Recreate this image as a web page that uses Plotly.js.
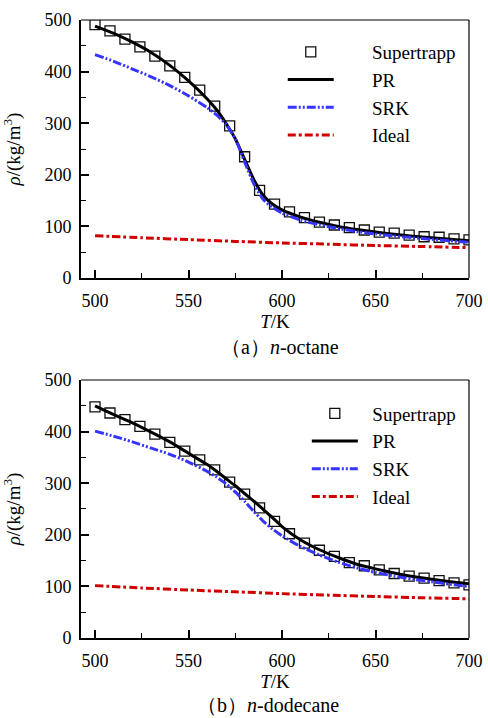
<!DOCTYPE html>
<html><head><meta charset="utf-8">
<script src="https://cdn.plot.ly/plotly-3.0.1.min.js"></script>
<style>html,body{margin:0;padding:0;background:#fff}#chart{width:488px;height:718px}</style>
</head><body><div id="chart"></div>
<script>
// Temperatures (K)
const T_sup = [500,508,516,524,532,540,548,556,564,572,580,588,596,604,612,620,628,636,644,652,660,668,676,684,692,700];
const T_line = [500,510,520,530,540,550,560,565,570,575,580,585,590,595,600,610,620,630,640,650,660,670,680,690,700];
const T_ideal = [500,525,550,575,600,625,650,675,700];

// (a) n-octane
const oct_sup   = [491,479,463,448,430,411,389,364,333,295,235,170,143,128,117,108.5,102.7,97.5,93,89,87,83,80,79,76,74];
const oct_PR    = [488,474,457,437,412,382,347,326,300,270,230,190,160,143,132,118,108,100,94,89,85,81,78,75,72];
const oct_SRK   = [433,420,405,390,373,353,330,316,298,270,225,182,152,137,126,112,103,96,90,85.5,81.5,78,75,72,69];
const oct_ideal = [82,78,74.5,71,68,65.5,63,61,58.8];

// (b) n-dodecane
const dod_sup   = [448,436,423,410,395,379,362,345,326,302,279,252,226,202,184,170,158,146,140,132,125,120,116,111,107,103];
const dod_PR    = [450,433,417,399,380,358,336,323,309,295,280,265,249,233,216,190,171,156,143,134,126,119,114,109,105];
const dod_SRK   = [401,391,380,368,356,341,323,312,299,283,265,245,226,211,198,177,161,147,136,127,120,114,109,104,100];
const dod_ideal = [101.5,97,93,89.5,86,83,80.5,78,76];

const names = ['Supertrapp','PR','SRK','Ideal'];
const FONT = '"Liberation Serif", "Times New Roman", serif';
const BLUE = '#3535ff', RED = '#d00000';

function traces(sup, pr, srk, ideal, xa, ya, leg, pad) {
  return [
    {x:T_sup, y:sup, xaxis:xa, yaxis:ya, legend:leg, name:pad+names[0], legendgroup:leg+'a', mode:'markers', type:'scatter',
     marker:{symbol:'square-open', size:10, color:'#111', line:{width:1.3, color:'#111'}}},
    {x:T_line, y:pr, xaxis:xa, yaxis:ya, legend:leg, name:pad+names[1], legendgroup:leg+'b', mode:'lines', type:'scatter', line:{color:'#000', width:3, shape:'spline', smoothing:0.6}},
    {x:T_line, y:srk, xaxis:xa, yaxis:ya, legend:leg, name:pad+names[2], legendgroup:leg+'c', mode:'lines', type:'scatter', line:{color:BLUE, width:3, shape:'spline', smoothing:0.6, dash:'9px,2px,2px,2px,2px,2px'}},
    {x:T_ideal, y:ideal, xaxis:xa, yaxis:ya, legend:leg, name:pad+names[3], legendgroup:leg+'d', mode:'lines', type:'scatter', line:{color:RED, width:3, shape:'spline', smoothing:0.6, dash:'8px,3px,3px,3px'}}
  ];
}

const data = [
  ...traces(oct_sup, oct_PR, oct_SRK, oct_ideal, 'x', 'y', 'legend', '\u00a0'.repeat(7)),
  ...traces(dod_sup, dod_PR, dod_SRK, dod_ideal, 'x2', 'y2', 'legend2', '\u00a0'.repeat(2))
];

function xax(anchor) {
  return {anchor:anchor, domain:[0,1], range:[492.5,700], tickvals:[500,550,600,650,700], ticks:'inside', ticklen:8, tickwidth:2,
    minor:{tickvals:[525,575,625,675], ticks:'inside', ticklen:5, tickwidth:1, tickcolor:'#000'},
    showline:true, linewidth:2, linecolor:'#000', showgrid:false, zeroline:false, tickcolor:'#000',
    tickfont:{family:FONT, size:18, color:'#000'}, ticklabelstandoff:5,
    title:{text:'<i>T</i>/K', font:{family:FONT, size:19, color:'#000'}, standoff:4}};
}
function yax(anchor, domain) {
  return {anchor:anchor, domain:domain, range:[0,500], tickvals:[0,100,200,300,400,500], ticks:'inside', ticklen:8, tickwidth:2,
    minor:{tickvals:[50,150,250,350,450], ticks:'inside', ticklen:5, tickwidth:1, tickcolor:'#000'},
    showline:true, linewidth:2, linecolor:'#000', showgrid:false, zeroline:false, tickcolor:'#000',
    tickfont:{family:FONT, size:18, color:'#000'}, ticklabelstandoff:4,
    title:{text:'<i>ρ</i>/(kg/m<sup>3</sup>)', font:{family:FONT, size:19, color:'#000'}, standoff:20}};
}
function leg(x, ytop) {
  return {x:x, y:ytop, xanchor:'left', yanchor:'top', bgcolor:'rgba(0,0,0,0)', font:{family:FONT, size:19, color:'#000'},
    traceorder:'grouped', tracegroupgap:0, itemwidth:46};
}
function frame(xr, yr) {
  return [
    {type:'line', xref:xr+' domain', yref:yr+' domain', x0:0, x1:1, y0:1, y1:1, line:{color:'#000', width:1.2}},
    {type:'line', xref:xr+' domain', yref:yr+' domain', x0:1, x1:1, y0:0, y1:1, line:{color:'#000', width:1.2}}
  ];
}

const layout = {
  width:488, height:718, margin:{l:81, r:19, t:20, b:80},
  font:{family:FONT, color:'#000'},
  paper_bgcolor:'#fff', plot_bgcolor:'#fff', showlegend:true,
  xaxis:xax('y'), yaxis:yax('x',[0.5825,1]),
  xaxis2:xax('y2'), yaxis2:yax('x2',[0,0.4175]),
  legend:leg(0.52, 0.979), legend2:leg(0.582, 0.394),
  shapes:[...frame('x','y'), ...frame('x2','y2')],
  annotations:[
    {text:'（a）<i>n</i>-octane', xref:'paper', yref:'paper', x:0.513, y:(638-347)/618, xanchor:'center', yanchor:'middle', showarrow:false, font:{family:FONT, size:20, color:'#000'}},
    {text:'（b）<i>n</i>-dodecane', xref:'paper', yref:'paper', x:0.482, y:(638-705)/618, xanchor:'center', yanchor:'middle', showarrow:false, font:{family:FONT, size:20, color:'#000'}}
  ]
};

Plotly.newPlot('chart', data, layout, {displayModeBar:false, staticPlot:true});
</script></body></html>
